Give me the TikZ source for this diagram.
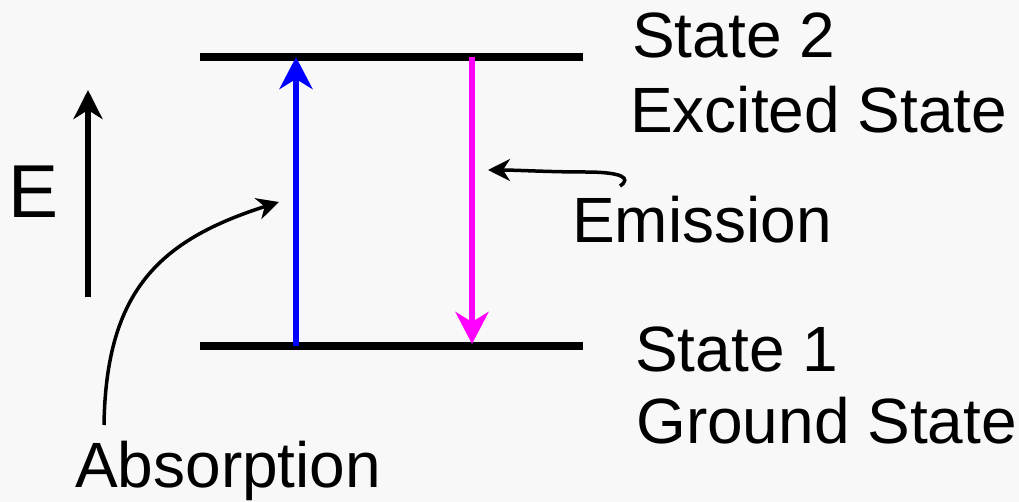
\documentclass[tikz,border=0pt]{standalone}
\usepackage{fontspec}
\setmainfont{Liberation Sans}
\usetikzlibrary{arrows.meta}
\definecolor{bg}{RGB}{248,248,248}
\definecolor{emis}{RGB}{255,0,255}
\definecolor{absb}{RGB}{0,0,255}
\begin{document}
\begin{tikzpicture}[x=1pt,y=-1pt,
  lbl/.style={anchor=base west,inner sep=0pt,font=\fontsize{64}{70}\selectfont},
  level/.style={line width=8pt},
  trans/.style={line width=6.5pt,-{Stealth[length=32pt,width=33pt,inset=10pt]}},
  pointer/.style={line width=3.5pt,-{Stealth[length=22pt,width=22pt,inset=7pt]}}]
\fill[bg] (0,0) rectangle (1019,502);
\useasboundingbox (0,0) rectangle (1019,502);
% levels
\coordinate (t1) at (200,57.5); \coordinate (t2) at (583,57.5);
\coordinate (b1) at (200,346); \coordinate (b2) at (583,346);
\draw[level] (t1) -- (t2);
\draw[level] (b1) -- (b2);
% transitions
\coordinate (a0) at (296,346); \coordinate (a1) at (296,57);
\coordinate (e0) at (472,57); \coordinate (e1) at (472,344);
\draw[trans,absb] (a0) -- (a1);
\draw[trans,emis,line width=6pt] (e0) -- (e1);
% energy axis
\coordinate (E0) at (88,297); \coordinate (E1) at (88,90);
\draw[line width=5.5pt,-{Stealth[length=29pt,width=29pt,inset=9pt]}] (E0) -- (E1);
% labels
\node[lbl] (s2) at (632,58) {State 2};
\node[lbl] (ex) at (630,133) {Excited State};
\node[lbl] (s1) at (635,371) {State 1};
\node[lbl] (gs) at (636,443) {Ground State};
\node[lbl] (em) at (572,243) {Emission};
\node[lbl] (ab) at (75,487) {Absorption};
\node[anchor=base west,inner sep=0pt,font=\fontsize{75}{80}\selectfont] (E) at (8,218) {E};
% pointers
\coordinate (p0) at (104,425); \coordinate (p1) at (279,202);
\draw[pointer] (p0) .. controls (106,290) and (160,240) .. (p1);
\coordinate (q0) at (620,186); \coordinate (qm) at (585,172); \coordinate (q1) at (488,170);
\draw[pointer] (q0) .. controls (632,178) and (622,172) .. (qm) .. controls (550,172) and (515,170) .. (q1);
\end{tikzpicture}
\end{document}
